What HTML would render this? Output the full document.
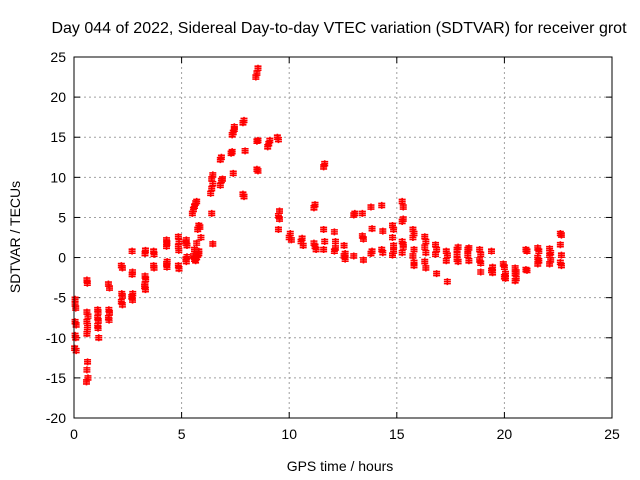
<!DOCTYPE html>
<html><head><meta charset="utf-8"><style>
body{margin:0;background:#fff}
svg{display:block;font-family:"Liberation Sans",sans-serif}
</style></head><body>
<svg id="chart" width="640" height="480">
<rect width="640" height="480" fill="#fff"/>
<text x="339" y="33" font-size="16" text-anchor="middle">Day 044 of 2022, Sidereal Day-to-day VTEC variation (SDTVAR) for receiver grot</text>
<g id="grid"></g>
<g id="ticks"></g>
<g id="marks"></g>
<rect x="74" y="57" width="538" height="361" fill="none" stroke="#000" stroke-width="1"/>
<text x="340" y="471" font-size="14" text-anchor="middle">GPS time / hours</text>
<text transform="translate(20,237) rotate(-90)" font-size="14" text-anchor="middle">SDTVAR / TECUs</text>
</svg>
<script>
const xTicks=[0,5,10,15,20,25];
const yTicks=[25,20,15,10,5,0,-5,-10,-15,-20];
const hours=[0.05,0.08,0.05,0.1,0.05,0.08,0.03,0.1,0.05,
0.6,0.62,0.6,0.65,0.6,0.63,0.62,0.6,0.63,0.6,0.65,0.58,
1.1,1.12,1.1,1.13,1.1,1.12,1.15,
1.6,1.65,1.62,1.65,1.6,1.63,
2.2,2.25,2.22,2.25,2.2,2.25,
2.7,2.72,2.7,2.73,2.68,2.72,
3.3,3.32,3.3,3.33,3.28,3.32,3.3,
3.7,3.72,3.7,3.72,
4.3,4.32,4.3,4.33,4.3,4.32,
4.85,4.88,4.85,4.87,4.85,4.88,
5.2,5.22,5.25,5.2,5.22,5.25,
5.5,5.55,5.6,5.65,5.7,5.75,5.8,5.85,5.9,5.6,5.7,5.8,5.55,5.6,5.65,5.7,5.75,5.8,
6.35,6.4,6.45,6.4,6.45,6.4,6.45,
6.8,6.85,6.8,6.85,6.9,
7.3,7.35,7.4,7.45,7.4,7.45,7.35,
7.85,7.9,7.95,7.9,7.85,
8.45,8.5,8.55,8.5,8.55,8.5,8.55,
9.0,9.05,9.1,
9.45,9.5,9.55,9.5,9.55,9.5,
10.0,10.05,10.1,
10.55,10.6,10.65,
11.15,11.2,11.25,11.2,11.15,
11.6,11.65,11.6,11.65,11.6,
12.1,12.15,12.1,12.15,
12.55,12.6,12.6,12.55,
13.0,13.05,13.0,
13.4,13.45,13.4,13.45,
13.8,13.85,13.8,13.85,
14.3,14.35,14.3,14.35,
14.8,14.85,14.8,14.85,14.8,14.85,
15.25,15.3,15.25,15.3,15.25,15.3,15.25,15.3,
15.75,15.8,15.75,15.8,15.75,15.8,15.8,
16.3,16.35,16.3,16.35,16.3,16.35,
16.8,16.85,16.8,16.85,
17.3,17.35,17.3,17.35,
17.8,17.85,17.8,17.85,17.8,
18.3,18.35,18.3,18.35,
18.85,18.9,18.85,18.9,18.9,
19.4,19.45,19.4,19.45,
19.95,20.0,20.05,20.0,20.05,
20.5,20.55,20.5,20.55,20.5,
21.0,21.05,21.0,21.05,
21.55,21.6,21.55,21.6,21.55,
22.1,22.15,22.1,22.15,22.1,
22.6,22.65,22.6,22.65,22.6,22.65];
const tecu=[-5.8,-6.3,-8.0,-8.4,-9.7,-10.0,-11.3,-11.6,-5.2,
-2.8,-3.2,-6.8,-7.3,-8.0,-8.5,-9.0,-9.5,-13.0,-14.0,-15.0,-15.5,
-6.5,-6.8,-7.5,-7.9,-8.5,-8.8,-10.0,
-3.3,-3.8,-6.5,-6.9,-7.5,-7.8,
-1.0,-1.3,-4.5,-4.8,-5.5,-5.9,
0.8,-1.8,-2.1,-4.5,-4.9,-5.3,
0.5,0.9,-2.3,-2.7,-3.6,-4.0,-3.3,
0.8,0.4,-1.0,-1.3,
2.2,1.8,1.4,-0.5,-0.8,-1.2,
2.6,2.0,1.4,0.9,-1.0,-1.4,
1.8,2.2,1.5,-0.2,-0.5,0.1,
5.5,6.0,6.4,6.8,7.0,3.5,4.0,3.8,2.5,1.0,1.8,0.5,0.2,-0.2,-0.4,0.0,0.3,0.8,
8.0,8.6,9.2,9.8,10.3,5.5,1.7,
9.0,9.6,12.2,12.5,9.8,
13.0,13.2,15.6,16.0,10.5,16.3,15.3,
16.8,17.1,13.3,7.6,7.9,
22.5,23.0,23.6,14.5,14.6,11.0,10.8,
13.8,14.2,14.6,
15.0,14.7,5.8,5.2,4.8,3.5,
2.5,3.0,2.2,
2.0,2.4,1.5,
6.2,6.6,1.0,1.4,1.8,
11.3,11.7,3.5,2.0,1.0,
3.2,2.0,0.8,1.2,
1.5,0.5,-0.2,0.2,
5.3,5.5,0.2,
5.5,2.3,2.7,-0.3,
6.3,3.6,0.5,0.8,
6.5,3.3,1.0,0.6,
4.0,3.5,2.5,1.5,0.3,0.8,
7.0,6.3,4.5,4.8,2.0,1.3,0.6,1.6,
3.5,3.0,2.5,1.0,0.2,-0.6,-1.0,
2.6,2.0,1.3,0.6,-0.5,-1.3,
1.6,1.0,0.4,-2.0,
0.8,0.3,-0.4,-3.0,
1.0,1.3,0.4,-0.5,-0.2,
1.0,1.2,0.3,-0.4,
1.0,0.4,-0.3,-0.7,-1.8,
0.8,-1.2,-1.6,-1.9,
-0.8,-1.2,-2.0,-2.4,-2.6,
-1.3,-1.8,-2.0,-2.6,-2.9,
1.0,0.8,-1.5,-1.6,
1.2,0.8,0.0,-0.4,-0.8,
1.1,0.6,0.3,-0.3,-0.8,
3.0,2.8,1.6,0.3,-0.6,-1.0];
const X=v=>74+v*538/25, Y=v=>57+(25-v)*361/45;
const NS='http://www.w3.org/2000/svg';
const grid=document.getElementById('grid'),tk=document.getElementById('ticks'),mk=document.getElementById('marks');
function mkEl(t,a,p){const e=document.createElementNS(NS,t);for(const k in a)e.setAttribute(k,a[k]);p.appendChild(e);return e;}
xTicks.forEach(v=>{const x=X(v);
 if(v>0&&v<25){const g=mkEl('line',{x1:x,y1:57,x2:x,y2:418,stroke:'#a0a0a0','stroke-dasharray':'2,3'},grid);
 
 }
 mkEl('line',{x1:x,y1:418,x2:x,y2:412,stroke:'#000'},tk);mkEl('line',{x1:x,y1:57,x2:x,y2:63,stroke:'#000'},tk);
 const t=mkEl('text',{x:x,y:439,'font-size':14,'text-anchor':'middle'},tk);t.textContent=v;
 
 });
yTicks.forEach(v=>{const y=Y(v);
 if(v<25&&v>-20){const g=mkEl('line',{x1:74,y1:y,x2:612,y2:y,stroke:'#a0a0a0','stroke-dasharray':'2,3'},grid);
 
 }
 mkEl('line',{x1:74,y1:y,x2:80,y2:y,stroke:'#000'},tk);mkEl('line',{x1:612,y1:y,x2:606,y2:y,stroke:'#000'},tk);
 const t=mkEl('text',{x:66,y:y+5,'font-size':14,'text-anchor':'end'},tk);t.textContent=v;
 
 });
hours.forEach((h,i)=>{const x=X(h),y=Y(tecu[i]);
 const p=mkEl('path',{d:`M${x-3.5},${y}H${x+3.5}M${x},${y-3.5}V${y+3.5}M${x-3.5},${y-2}H${x+3.5}M${x-3.5},${y+2}H${x+3.5}`,stroke:'#f00','stroke-width':1.6,fill:'none'},mk);
 
 });
</script>
</body></html>
